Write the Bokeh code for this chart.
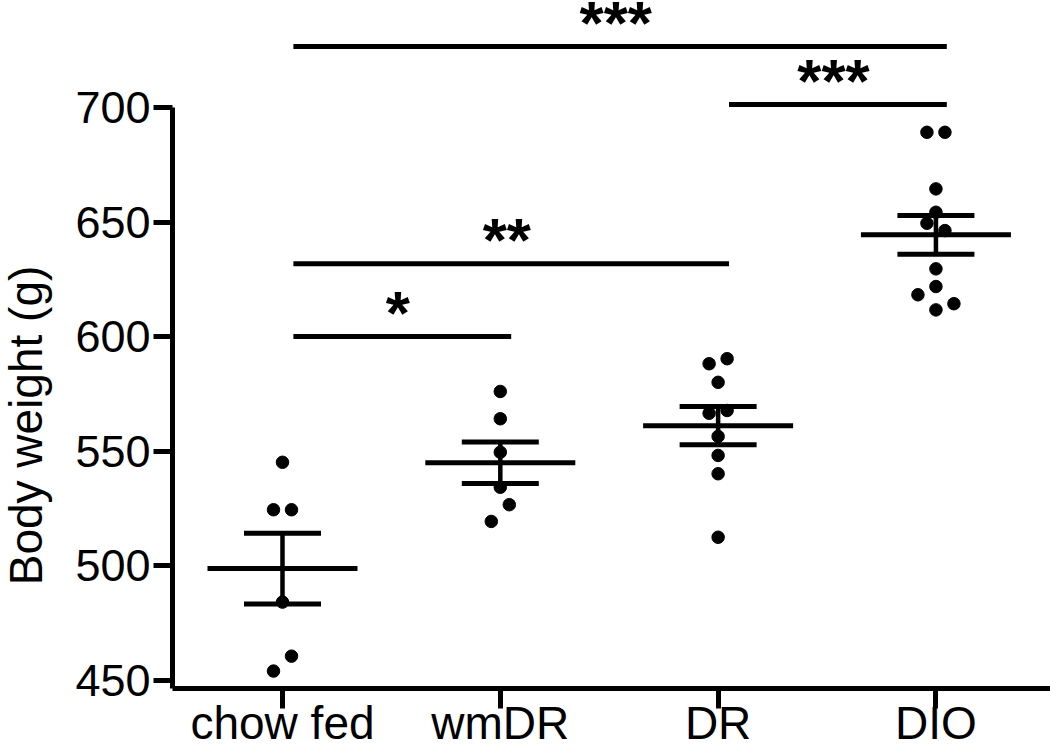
import math
import numpy as np
from bokeh.plotting import figure
from bokeh.layouts import row
from bokeh.models import FixedTicker
from bokeh.core.properties import value
from bokeh.embed import file_html
from bokeh.resources import INLINE

# ---------------- data ----------------
categories = ["chow fed", "wmDR", "DR", "DIO"]
chow_fed = [545.2, 524.5, 524.5, 484.2, 454.1, 460.6]
wm_dr = [576.1, 564.2, 549.6, 534.3, 519.4, 526.7]
dr = [588.2, 590.4, 580.1, 566.6, 567.8, 556.5, 548.2, 540.2, 512.5]
dio = [689.2, 689.2, 664.5, 654.3, 649.5, 646.3, 629.6, 621.9, 618.3, 611.7, 614.4]
groups = [chow_fed, wm_dr, dr, dio]

y_ticks = [450, 500, 550, 600, 650, 700]
y_title = "Body weight (g)"

# significance comparisons: (group a, group b, label, bar level in g)
comp_a = [0, 0, 2, 0]
comp_b = [1, 2, 3, 3]
comp_label = ["*", "**", "***", "***"]
comp_level = [600.1, 631.8, 701.3, 726.6]

# ---------------- layout ----------------
W, H = 1050, 752
LW = 64                      # strip holding the y-axis title
LEFT, BOTTOM = 172, 64       # frame edges in page pixels
FRAME_H = H - BOTTOM
X0, X1 = -0.505, 3.526
Y0, Y1 = 446.5, 746.7
px_x = (W - LEFT) / (X1 - X0)
px_y = (H - BOTTOM) / (Y1 - Y0)

FONT = value("Liberation Sans")


def swarm_offsets(vals, thr=7.5, step_px=18.0):
    order = sorted(range(len(vals)), key=lambda k: vals[k])
    clusters, cur = [], []
    for k in order:
        if cur and vals[k] - vals[cur[0]] < thr:
            cur.append(k)
        else:
            if cur:
                clusters.append(cur)
            cur = [k]
    if cur:
        clusters.append(cur)
    off = [0.0] * len(vals)
    for c in clusters:
        c = sorted(c)
        n = len(c)
        for pos, k in enumerate(c):
            off[k] = (pos - (n - 1) / 2.0) * step_px
    return off


# ---- left strip: y-axis title (frame aligned with the main frame) ----
t = figure(width=LW, height=H, x_range=(0, LW), y_range=(FRAME_H, 0),
           output_backend="svg", toolbar_location=None, title=None,
           min_border=0, min_border_bottom=BOTTOM,
           x_axis_type=None, y_axis_type=None)
t.outline_line_color = None
t.xgrid.visible = False
t.ygrid.visible = False
t.text(x=[25], y=[425], text=[y_title], angle=math.pi / 2,
       text_font=FONT, text_font_size="46px", text_color="black",
       text_align="center", text_baseline="alphabetic")

# ---- main plot ----
p = figure(width=W - LW, height=H, x_range=(X0, X1), y_range=(Y0, Y1),
           output_backend="svg", toolbar_location=None, title=None,
           min_border_left=LEFT - LW, min_border_bottom=BOTTOM,
           min_border_top=0, min_border_right=0)
p.outline_line_color = None
p.background_fill_color = "white"
p.border_fill_color = "white"
p.xgrid.visible = False
p.ygrid.visible = False

for ax in (p.xaxis[0], p.yaxis[0]):
    ax.axis_line_width = 5
    ax.axis_line_color = "black"
    ax.major_tick_line_width = 5
    ax.major_tick_line_color = "black"
    ax.major_tick_in = 0
    ax.minor_tick_line_color = None
    ax.major_label_text_font = "Liberation Sans"
    ax.major_label_text_color = "black"

p.xaxis.ticker = FixedTicker(ticks=list(range(len(categories))))
p.xaxis.major_label_overrides = {i: c for i, c in enumerate(categories)}
p.xaxis.major_tick_out = 20
p.xaxis.major_label_standoff = -12
p.xaxis.major_label_text_font_size = "46px"

p.yaxis.ticker = FixedTicker(ticks=y_ticks)
p.yaxis.bounds = (Y0, y_ticks[-1])
p.yaxis.major_tick_out = 19
p.yaxis.major_label_standoff = 3
p.yaxis.major_label_text_font_size = "45px"

# points
xs, ys = [], []
for i, g in enumerate(groups):
    offs = swarm_offsets(g)
    for v, o in zip(g, offs):
        xs.append(i + o / px_x)
        ys.append(v)
p.scatter(xs, ys, size=12.5, color="black")

# mean and SEM
mean_hw = 75 / px_x
cap_hw = 38.5 / px_x
means = [float(np.mean(g)) for g in groups]
sems = [float(np.std(g, ddof=1) / math.sqrt(len(g))) for g in groups]
cx = list(range(len(groups)))
p.segment(x0=[c - mean_hw for c in cx], x1=[c + mean_hw for c in cx],
          y0=means, y1=means, line_width=5, line_color="black")
for sgn in (1, -1):
    yy = [m + sgn * s for m, s in zip(means, sems)]
    p.segment(x0=[c - cap_hw for c in cx], x1=[c + cap_hw for c in cx],
              y0=yy, y1=yy, line_width=5, line_color="black")
p.segment(x0=cx, x1=cx, y0=[m - s for m, s in zip(means, sems)],
          y1=[m + s for m, s in zip(means, sems)], line_width=4.5, line_color="black")

# significance bars
p.segment(x0=[a + 0.05 for a in comp_a], x1=[b + 0.05 for b in comp_b],
          y0=comp_level, y1=comp_level, line_width=5, line_color="black")
p.text(x=[(a + b) / 2 + 0.03 for a, b in zip(comp_a, comp_b)],
       y=[lv + 24 / px_y for lv in comp_level], text=comp_label,
       text_font=FONT, text_font_style="bold", text_font_size="62px",
       text_align="center", text_baseline="alphabetic", text_color="black")

layout = row(t, p, spacing=0)
open("out.html", "w").write(file_html(layout, INLINE))
